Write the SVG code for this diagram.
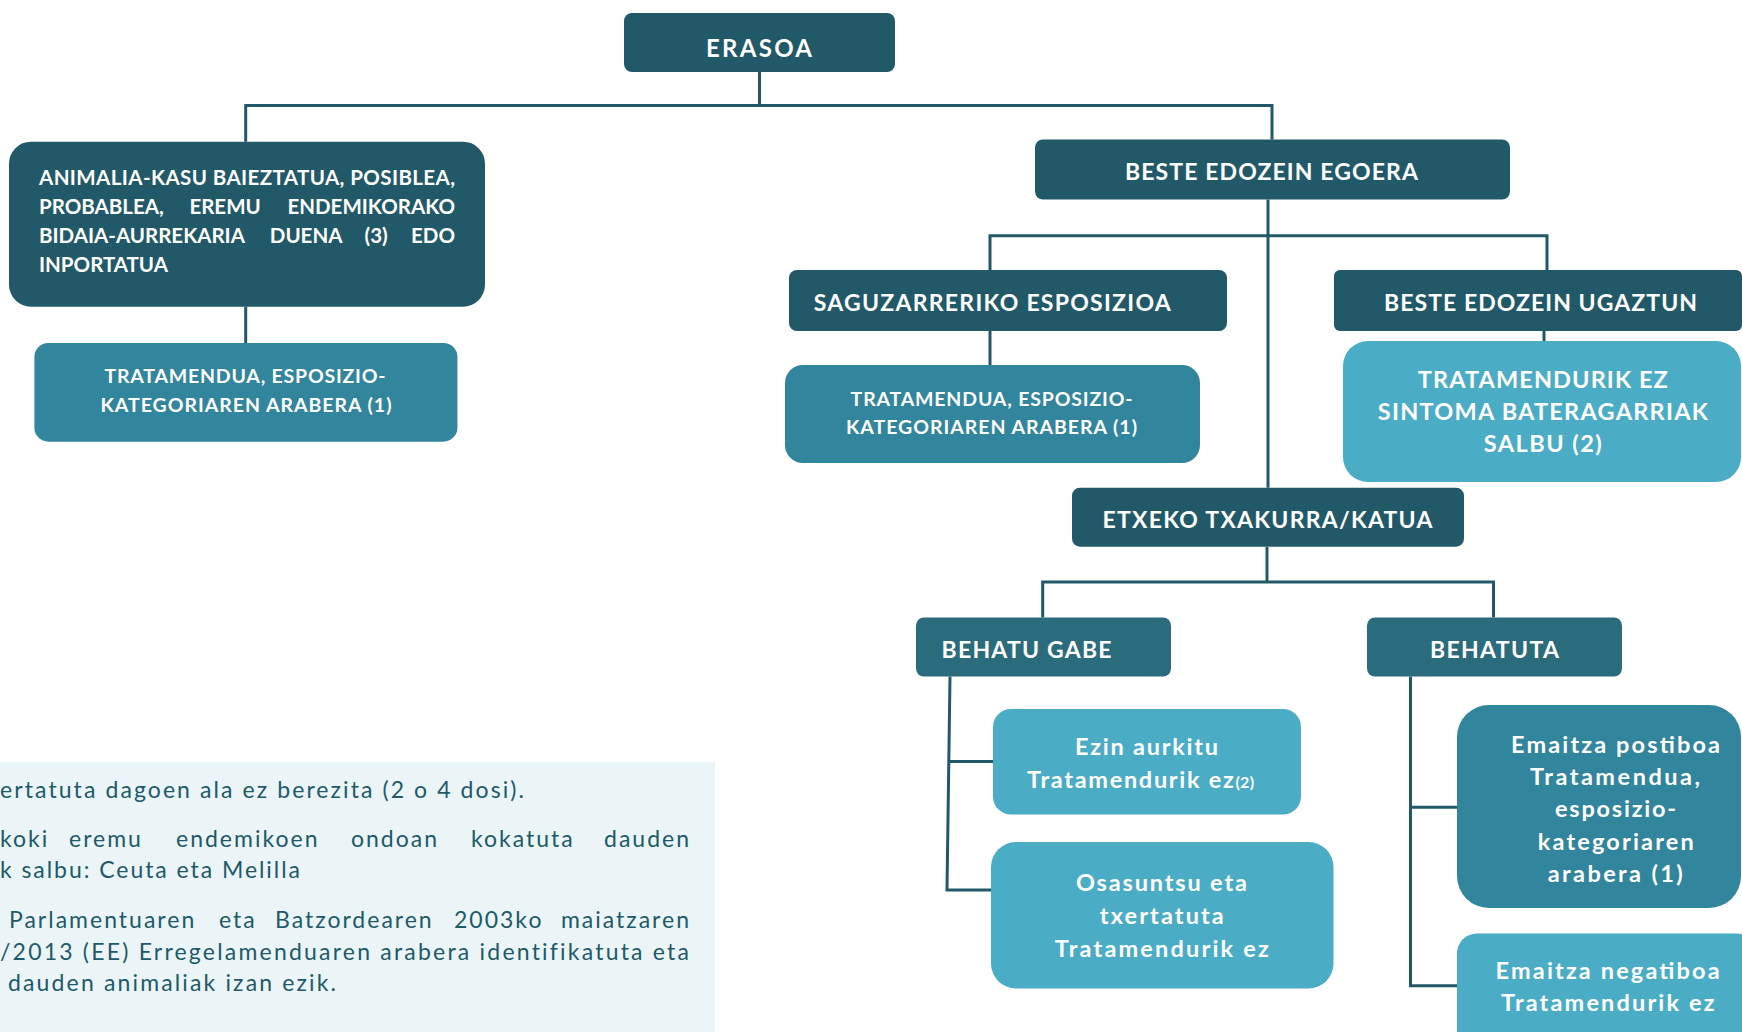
<svg xmlns="http://www.w3.org/2000/svg" width="1742" height="1032" viewBox="0 0 1742 1032">
<style>
.dark{fill:#215968}
.mid{fill:#31859c}
.mdk{fill:#2a6b7c}
.lt{fill:#4bacc6}
.t{font-family:Lato,"Liberation Sans",sans-serif;font-weight:bold;fill:#ffffff}
.c{text-anchor:middle}
.e{text-anchor:end}
.fn{font-family:Lato,"Liberation Sans",sans-serif;font-size:23px;fill:#215968;letter-spacing:2px}
.con{fill:none;stroke:#215968;stroke-width:3}
</style>
<rect x="0" y="762" width="715" height="270" fill="#ebf5f8"/>
<g id="footnote">
<text class="fn" x="0" y="798" textLength="526" lengthAdjust="spacing">ertatuta dagoen ala ez berezita (2 o 4 dosi).</text>
<text class="fn" y="847"><tspan x="0">koki</tspan><tspan x="69">eremu</tspan><tspan x="176">endemikoen</tspan><tspan x="351">ondoan</tspan><tspan x="471">kokatuta</tspan></text>
<text class="fn e" x="691" y="847">dauden</text>
<text class="fn" x="0" y="878" textLength="302" lengthAdjust="spacing">k salbu: Ceuta eta Melilla</text>
<text class="fn" y="928"><tspan x="9">Parlamentuaren</tspan><tspan x="219">eta</tspan><tspan x="275">Batzordearen</tspan><tspan x="454">2003ko</tspan></text>
<text class="fn e" x="691" y="928">maiatzaren</text>
<text class="fn" x="0" y="960" textLength="691" lengthAdjust="spacing">/2013 (EE) Erregelamenduaren arabera identifikatuta eta</text>
<text class="fn" x="8" y="991" textLength="330" lengthAdjust="spacing">dauden animaliak izan ezik.</text>
</g>
<g id="connectors">
<path class="con" d="M759.5 72 V105.5"/>
<path class="con" d="M245.7 141.7 V105.5 H1272 V139.5"/>
<path class="con" d="M245.7 306.7 V343"/>
<path class="con" d="M1268 199.5 V487.7"/>
<path class="con" d="M990 270 V235.7 H1547 V270"/>
<path class="con" d="M990 331 V365"/>
<path class="con" d="M1544 331 V341"/>
<path class="con" d="M1267 546.9 V582"/>
<path class="con" d="M1042.7 617.5 V582 H1493.5 V617.5"/>
<path class="con" d="M950 676.5 L947 890 H993"/>
<path class="con" d="M949 761.6 H993"/>
<path class="con" d="M1410.5 676.5 V985.8 H1457"/>
<path class="con" d="M1410.5 807.3 H1457"/>
</g>
<g id="erasoa">
<rect class="dark" x="624" y="13" width="271" height="59" rx="8"/>
<text class="t c" x="759" y="57" font-size="24" textLength="106" lengthAdjust="spacing">ERASOA</text>
</g>
<g id="animalia">
<rect class="dark" x="9" y="141.7" width="476" height="165" rx="22"/>
<text class="t" x="39" y="185" font-size="20.5" textLength="416" lengthAdjust="spacing">ANIMALIA-KASU BAIEZTATUA, POSIBLEA,</text>
<text class="t" y="213.5" font-size="20.5"><tspan x="39">PROBABLEA,</tspan><tspan x="189.4">EREMU</tspan></text>
<text class="t e" x="455" y="213.5" font-size="20.5">ENDEMIKORAKO</text>
<text class="t" y="242.5" font-size="20.5"><tspan x="39">BIDAIA-AURREKARIA</tspan><tspan x="269.8">DUENA</tspan><tspan x="364.5">(3)</tspan></text>
<text class="t e" x="455" y="242.5" font-size="20.5">EDO</text>
<text class="t" x="39" y="272" font-size="20.5">INPORTATUA</text>
</g>
<g id="tratamendua1">
<rect class="mid" x="34.4" y="343" width="423" height="98.7" rx="14"/>
<text class="t c" x="245" y="383" font-size="19.5" textLength="281" lengthAdjust="spacing">TRATAMENDUA, ESPOSIZIO-</text>
<text class="t c" x="246" y="412" font-size="19.5" textLength="291" lengthAdjust="spacing">KATEGORIAREN ARABERA (1)</text>
</g>
<g id="beste-egoera">
<rect class="dark" x="1035" y="139.5" width="475" height="60" rx="8"/>
<text class="t c" x="1271.5" y="180" font-size="23" textLength="293" lengthAdjust="spacing">BESTE EDOZEIN EGOERA</text>
</g>
<g id="saguzar">
<rect class="dark" x="789" y="270" width="438" height="61" rx="8"/>
<text class="t" x="813.7" y="310.7" font-size="23" textLength="357" lengthAdjust="spacing">SAGUZARRERIKO ESPOSIZIOA</text>
</g>
<g id="ugaztun">
<rect class="dark" x="1334" y="270" width="408" height="61" rx="6"/>
<text class="t" x="1384" y="310.7" font-size="23" textLength="313" lengthAdjust="spacing">BESTE EDOZEIN UGAZTUN</text>
</g>
<g id="tratamendua2">
<rect class="mid" x="785" y="365" width="415" height="98" rx="18"/>
<text class="t c" x="991.6" y="406" font-size="19.5" textLength="282" lengthAdjust="spacing">TRATAMENDUA, ESPOSIZIO-</text>
<text class="t c" x="991.5" y="434" font-size="19.5" textLength="291" lengthAdjust="spacing">KATEGORIAREN ARABERA (1)</text>
</g>
<g id="tratamendurik-ez">
<rect class="lt" x="1343" y="341" width="398" height="141" rx="25"/>
<text class="t c" x="1542.8" y="388" font-size="23.5" textLength="250" lengthAdjust="spacing">TRATAMENDURIK EZ</text>
<text class="t c" x="1542.8" y="420" font-size="23.5" textLength="330" lengthAdjust="spacing">SINTOMA BATERAGARRIAK</text>
<text class="t c" x="1542.8" y="452" font-size="23.5" textLength="118" lengthAdjust="spacing">SALBU (2)</text>
</g>
<g id="etxeko">
<rect class="dark" x="1072" y="487.7" width="392" height="59" rx="8"/>
<text class="t c" x="1267.5" y="527.5" font-size="23" textLength="330" lengthAdjust="spacing">ETXEKO TXAKURRA/KATUA</text>
</g>
<g id="behatu-gabe">
<rect class="mdk" x="916" y="617.5" width="255" height="59" rx="8"/>
<text class="t" x="941.6" y="657.7" font-size="23" textLength="170" lengthAdjust="spacing">BEHATU GABE</text>
</g>
<g id="behatuta">
<rect class="mdk" x="1367" y="617.5" width="255" height="59" rx="8"/>
<text class="t c" x="1494.4" y="657.7" font-size="23" textLength="129" lengthAdjust="spacing">BEHATUTA</text>
</g>
<g id="ezin-aurkitu">
<rect class="lt" x="993" y="709" width="308" height="105.5" rx="18"/>
<text class="t c" x="1146.5" y="754.5" font-size="23.5" textLength="143" lengthAdjust="spacing">Ezin aurkitu</text>
<text class="t" x="1027" y="788" font-size="23.5" letter-spacing="1.7">Tratamendurik ez<tspan font-size="16" letter-spacing="0.3">(2)</tspan></text>
</g>
<g id="osasuntsu">
<rect class="lt" x="991" y="842" width="342.5" height="146.5" rx="25"/>
<text class="t c" x="1161.4" y="891" font-size="23.5" textLength="171" lengthAdjust="spacing">Osasuntsu eta</text>
<text class="t c" x="1161.8" y="924" font-size="23.5" textLength="124" lengthAdjust="spacing">txertatuta</text>
<text class="t c" x="1161.8" y="957" font-size="23.5" textLength="214" lengthAdjust="spacing">Tratamendurik ez</text>
</g>
<g id="positiboa">
<rect class="mid" x="1457" y="705" width="284" height="203" rx="32"/>
<text class="t c" x="1615.5" y="752.8" font-size="23.5" textLength="209" lengthAdjust="spacing">Emaitza postiboa</text>
<text class="t c" x="1615" y="784.5" font-size="23.5" textLength="170" lengthAdjust="spacing">Tratamendua,</text>
<text class="t c" x="1615.5" y="817" font-size="23.5" textLength="121" lengthAdjust="spacing">esposizio-</text>
<text class="t c" x="1615.8" y="849.6" font-size="23.5" textLength="156" lengthAdjust="spacing">kategoriaren</text>
<text class="t c" x="1615.3" y="882" font-size="23.5" textLength="135" lengthAdjust="spacing">arabera (1)</text>
</g>
<g id="negatiboa">
<rect class="lt" x="1457" y="933.5" width="300" height="130" rx="20"/>
<text class="t c" x="1607.6" y="978.8" font-size="23.5" textLength="224" lengthAdjust="spacing">Emaitza negatiboa</text>
<text class="t c" x="1607.8" y="1010.5" font-size="23.5" textLength="213.5" lengthAdjust="spacing">Tratamendurik ez</text>
</g>
</svg>
